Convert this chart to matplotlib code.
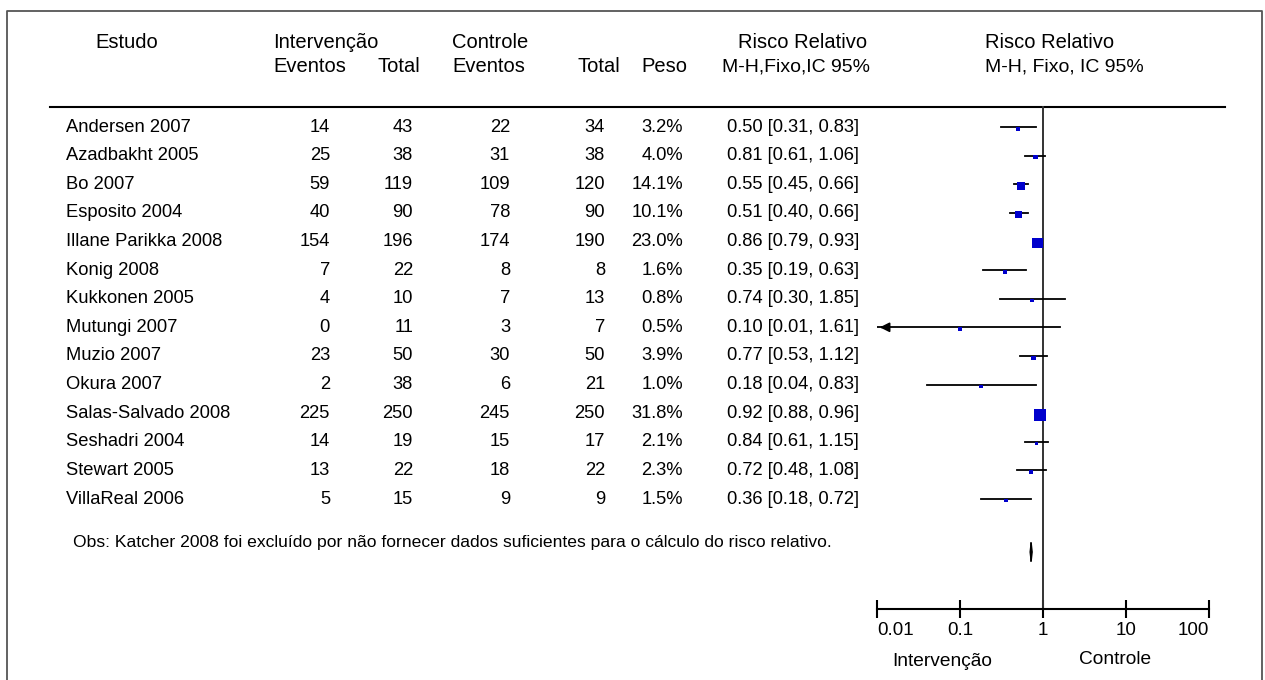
import matplotlib
matplotlib.use("Agg")
import matplotlib.pyplot as plt
import numpy as np

plt.rcParams['font.family'] = ['Liberation Sans', 'DejaVu Sans']

studies = ["Andersen 2007", "Azadbakht 2005", "Bo 2007", "Esposito 2004",
           "Illane Parikka 2008", "Konig 2008", "Kukkonen 2005", "Mutungi 2007",
           "Muzio 2007", "Okura 2007", "Salas-Salvado 2008", "Seshadri 2004",
           "Stewart 2005", "VillaReal 2006"]
int_events = [14, 25, 59, 40, 154, 7, 4, 0, 23, 2, 225, 14, 13, 5]
int_total = [43, 38, 119, 90, 196, 22, 10, 11, 50, 38, 250, 19, 22, 15]
ctl_events = [22, 31, 109, 78, 174, 8, 7, 3, 30, 6, 245, 15, 18, 9]
ctl_total = [34, 38, 120, 90, 190, 8, 13, 7, 50, 21, 250, 17, 22, 9]
weights = [3.2, 4.0, 14.1, 10.1, 23.0, 1.6, 0.8, 0.5, 3.9, 1.0, 31.8, 2.1, 2.3, 1.5]
rr = [0.50, 0.81, 0.55, 0.51, 0.86, 0.35, 0.74, 0.10, 0.77, 0.18, 0.92, 0.84, 0.72, 0.36]
ci_low = [0.31, 0.61, 0.45, 0.40, 0.79, 0.19, 0.30, 0.01, 0.53, 0.04, 0.88, 0.61, 0.48, 0.18]
ci_high = [0.83, 1.06, 0.66, 0.66, 0.93, 0.63, 1.85, 1.61, 1.12, 0.83, 0.96, 1.15, 1.08, 0.72]
pooled_rr = 0.72
pooled_low = 0.70
pooled_high = 0.74
axis_ticks = [0.01, 0.1, 1, 10, 100]
axis_labels = ["0.01", "0.1", "1", "10", "100"]
note = "Obs: Katcher 2008 foi excluído por não fornecer dados suficientes para o cálculo do risco relativo."

W, H = 1265, 680
fig = plt.figure(figsize=(W / 100, H / 100), dpi=100)
fig.patch.set_facecolor("white")
ax = fig.add_axes([0, 0, 1, 1])
ax.set_xlim(0, W)
ax.set_ylim(H, 0)
ax.axis("off")

# frame
ax.plot([7, 7, 1262, 1262], [H, 11, 11, H], color="#555555", lw=1.3)

hfs = 14.5
fs = 13.2
# headers
ax.text(95, 43, "Estudo", fontsize=hfs, va="center", ha="left")
ax.text(273, 43, "Intervenção", fontsize=hfs, va="center", ha="left")
ax.text(273, 67, "Eventos", fontsize=hfs, va="center", ha="left")
ax.text(377, 67, "Total", fontsize=hfs, va="center", ha="left")
ax.text(452, 43, "Controle", fontsize=hfs, va="center", ha="left")
ax.text(452, 67, "Eventos", fontsize=hfs, va="center", ha="left")
ax.text(578, 67, "Total", fontsize=hfs, va="center", ha="left")
ax.text(641, 67, "Peso", fontsize=hfs, va="center", ha="left")
ax.text(803, 43, "Risco Relativo", fontsize=hfs, va="center", ha="center")
ax.text(722, 67, "M-H,Fixo,IC 95%", fontsize=hfs - 0.5, va="center", ha="left")
ax.text(985, 43, "Risco Relativo", fontsize=hfs, va="center", ha="left")
ax.text(985, 67, "M-H, Fixo, IC 95%", fontsize=hfs - 0.5, va="center", ha="left")

ax.plot([50, 1225], [107, 107], color="black", lw=1.5)

row0, dy = 127, (499 - 127) / 13
for i, s in enumerate(studies):
    y = row0 + i * dy
    ax.text(66, y, s, fontsize=fs, va="center", ha="left")
    ax.text(330, y, str(int_events[i]), fontsize=fs, va="center", ha="right")
    ax.text(413, y, str(int_total[i]), fontsize=fs, va="center", ha="right")
    ax.text(510, y, str(ctl_events[i]), fontsize=fs, va="center", ha="right")
    ax.text(605, y, str(ctl_total[i]), fontsize=fs, va="center", ha="right")
    ax.text(683, y, f"{weights[i]:.1f}%", fontsize=fs, va="center", ha="right")
    ax.text(727, y, f"{rr[i]:.2f} [{ci_low[i]:.2f}, {ci_high[i]:.2f}]", fontsize=fs,
            va="center", ha="left")

ax.text(73, 542, note, fontsize=12.6, va="center", ha="left")

# forest axes
x0, x1 = 877, 1209
fax = fig.add_axes([x0 / W, 0, (x1 - x0) / W, 1])
fax.patch.set_alpha(0)
fax.set_xscale("log")
fax.set_xlim(0.01, 100)
top_row = -row0 / dy
bot_row = (H - row0) / dy
fax.set_ylim(bot_row, top_row)
for sp in ["top", "left", "right"]:
    fax.spines[sp].set_visible(False)
axis_row = (609 - row0) / dy
fax.spines["bottom"].set_position(("data", axis_row))
fax.spines["bottom"].set_linewidth(1.5)
fax.set_xticks(axis_ticks)
fax.set_xticklabels(axis_labels, fontsize=13.5)
labels = fax.get_xticklabels()
labels[0].set_horizontalalignment("left")
labels[-1].set_horizontalalignment("right")
fax.minorticks_off()
fax.tick_params(axis="x", direction="inout", length=13, width=1.5, pad=3)
fax.set_yticks([])

# vertical line of no effect
fax.plot([1, 1], [(107 - row0) / dy, axis_row], color="#333333", lw=1.4, zorder=2)

for i in range(len(studies)):
    lo = max(ci_low[i], 0.01)
    fax.plot([lo, ci_high[i]], [i, i], color="black", lw=1.3, zorder=3)
    if ci_low[i] <= 0.01:
        fax.annotate("", xy=(0.01, i), xytext=(0.013, i),
                     arrowprops=dict(arrowstyle="-|>", color="black", lw=1.3,
                                     mutation_scale=14), zorder=3)
    side = max(3.5, 12 * np.sqrt(weights[i] / 31.8))
    fax.scatter([rr[i]], [i + 0.06], marker="s", s=(side * 0.72) ** 2,
                color="#0000CC", edgecolors="none", zorder=4)

py = (552 - row0) / dy
h = 9 / dy
fax.fill([pooled_low, pooled_rr, pooled_high, pooled_rr],
         [py, py - h, py, py + h], color="black", zorder=4, lw=1)
fax.plot([pooled_rr, pooled_rr], [py - h, py + h], color="black", lw=1.2, zorder=4)

ax.text(942, 662, "Intervenção", fontsize=13.8, va="center", ha="center")
ax.text(1115, 660, "Controle", fontsize=13.8, va="center", ha="center")

fig.savefig("out.png", dpi=100, facecolor="white")
